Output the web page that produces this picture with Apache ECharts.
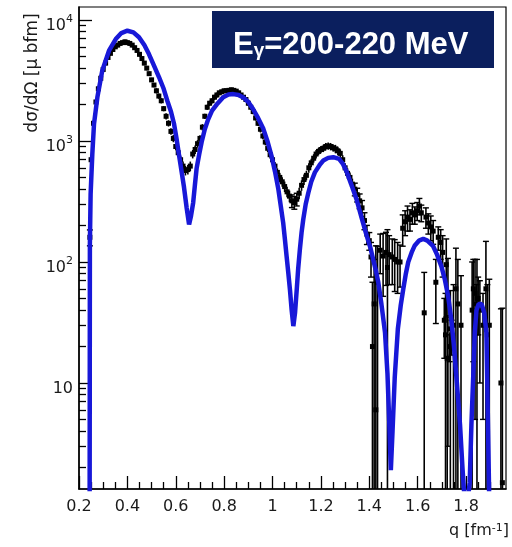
<!DOCTYPE html>
<html><head><meta charset="utf-8">
<script src="https://cdn.jsdelivr.net/npm/echarts@6/dist/echarts.min.js"></script>
<style>html,body{margin:0;padding:0;background:#fff}#c{width:512px;height:547px}</style>
</head><body><div id="c"></div>
<script>
// ---- axis ticks / labels ----
const xMajorTicks = [0.2,0.4,0.6,0.8,1.0,1.2,1.4,1.6,1.8];
const xMinorTicks = [0.25,0.3,0.35,0.45,0.5,0.55,0.65,0.7,0.75,0.85,0.9,0.95,1.05,1.1,1.15,1.25,1.3,1.35,1.45,1.5,1.55,1.65,1.7,1.75,1.85,1.9,1.95];
const yMajorTicks = [10,100,1000,10000];
const yMajorExp = ['', '2', '3', '4'];
const yMinorTicks = [2,3,4,5,6,7,8,9,20,30,40,50,60,70,80,90,200,300,400,500,600,700,800,900,2000,3000,4000,5000,6000,7000,8000,9000];
const xRange = [0.2, 1.965];
const yRange = [1.33, 12800];

// ---- theory curve (blue) ----
const curveQ = [0.2440,0.2450,0.248,0.255,0.262,0.276,0.296,0.324,0.352,0.375,0.400,0.425,0.448,0.470,0.489,0.510,0.531,0.550,0.565,0.580,0.593,0.603,0.613,0.624,0.634,0.645,0.655,0.663,0.672,0.679,0.686,0.697,0.707,0.720,0.734,0.750,0.769,0.796,0.818,0.838,0.860,0.879,0.900,0.920,0.940,0.962,0.980,0.996,1.010,1.024,1.034,1.044,1.051,1.058,1.065,1.072,1.079,1.086,1.093,1.100,1.106,1.113,1.120,1.127,1.137,1.148,1.160,1.175,1.196,1.210,1.230,1.251,1.275,1.290,1.306,1.325,1.347,1.370,1.389,1.405,1.416,1.427,1.437,1.450,1.465,1.475,1.482,1.489,1.496,1.505,1.518,1.530,1.540,1.551,1.561,1.575,1.588,1.605,1.623,1.640,1.664,1.680,1.698,1.712,1.726,1.740,1.750,1.762,1.775,1.785,1.795,1.805,1.815,1.822,1.830,1.836,1.843,1.852,1.864,1.875,1.884,1.891,1.896];
const curveVal = [1.0,140,363,775,1380,2300,3800,5570,6960,7800,8150,7900,7200,6200,5230,4200,3360,2700,2150,1750,1380,1050,775,560,415,280,204,240,310,430,590,780,980,1250,1510,1780,2000,2300,2420,2440,2400,2290,2100,1830,1550,1260,980,750,560,400,290,211,155,112,82,59,40,29.5,38,59,88,127,175,225,300,373,460,550,640,690,725,735,710,650,560,440,330,225,165,130,105,85,68,45,26,12,5,1.9,4,11,28,44,59,80,100,120,137,150,155,150,135,115,92,72,52,32,20,10,4.5,2,1.0,1.0,1.5,4.5,12,26,40,45,45,38,26,4,1.0];

// ---- measured data, dense part (percent errors) ----
const denseQ = [0.245,0.25,0.26,0.27,0.28,0.29,0.30,0.31,0.32,0.33,0.34,0.35,0.36,0.37,0.38,0.39,0.40,0.41,0.42,0.43,0.44,0.45,0.46,0.47,0.48,0.49,0.50,0.51,0.52,0.53,0.54,0.55,0.56,0.57,0.58,0.59,0.60,0.61,0.62,0.63,0.64,0.65,0.66,0.67,0.68,0.69,0.70,0.71,0.72,0.73,0.74,0.75,0.76,0.77,0.78,0.79,0.80,0.81,0.82,0.83,0.84,0.85,0.86,0.87,0.88,0.89,0.90,0.91,0.92,0.93,0.94,0.95,0.96,0.97,0.98,0.99,1.00,1.01,1.02,1.03,1.04,1.05,1.06,1.07,1.08,1.09,1.10,1.11,1.12,1.13,1.14,1.15,1.16,1.17,1.18,1.19,1.20,1.21,1.22,1.23,1.24,1.25,1.26,1.27,1.28,1.29,1.30,1.31,1.32,1.33,1.34,1.35,1.36,1.37,1.38,1.39];
const denseVal = [160,700,1400,2100,2700,3300,3900,4400,4900,5300,5700,6000,6200,6400,6500,6600,6500,6400,6200,5900,5600,5200,4800,4400,4000,3600,3200,2900,2600,2350,2150,1850,1600,1400,1200,1050,900,800,700,620,570,580,620,780,850,950,1050,1300,1600,1900,2050,2150,2300,2400,2500,2550,2600,2600,2620,2650,2620,2580,2500,2400,2300,2200,2050,1900,1750,1550,1400,1250,1100,980,870,770,700,620,550,500,460,420,380,350,320,310,330,370,430,480,520,600,660,720,780,820,850,870,900,910,900,880,860,830,790,700,600,540,500,440,400,360,320,280,220,170];
const denseErrPct = [15,6,5,5,5,5,4,4,4,4,4,4,4,4,4,4,4,4,4,4,4,4,4,4,4,4,4,4,5,5,5,5,6,6,6,7,7,8,8,9,9,9,9,8,8,7,6,6,5,5,5,5,5,5,4,4,4,4,4,4,4,4,4,4,4,4,5,5,5,5,5,6,6,6,7,7,7,8,8,9,9,10,10,11,12,12,12,11,10,10,9,9,8,8,8,7,7,7,7,7,7,7,8,8,8,9,9,10,10,11,12,13,14,15,16,18];

// ---- measured data, sparse part (absolute errors) ----
const sparseQ = [1.400,1.407,1.413,1.420,1.427,1.434,1.445,1.457,1.469,1.475,1.482,1.495,1.505,1.517,1.527,1.538,1.548,1.558,1.568,1.578,1.588,1.598,1.607,1.615,1.627,1.634,1.644,1.654,1.664,1.675,1.685,1.695,1.703,1.710,1.715,1.718,1.722,1.725,1.732,1.735,1.740,1.748,1.758,1.766,1.779,1.825,1.830,1.837,1.843,1.845,1.850,1.857,1.870,1.882,1.888,1.896,1.944,1.950];
const sparseVal = [150,110,20,45,6,68,125,112,120,90,115,110,105,100,100,190,215,235,225,255,245,265,290,255,38,235,210,195,180,68,160,145,120,33,25,95,16,55,20,28,25,30,60,45,30,40,60,55,45,50,50,40,30,60,25,30,10,1.5];
const sparseErr = [25,35,48,60,130,67,45,60,56,95,50,45,48,45,38,55,50,55,45,50,40,45,45,40,44,45,40,45,40,37,35,40,45,17,30,60,20,52,5,30,8,35,70,60,47,60,45,50,20,55,25,30,25,88,40,42,31,40];

// ---- build ----
const pts = [];
denseQ.forEach((q,i)=>{const v=denseVal[i], e=v*denseErrPct[i]/100; pts.push([q,v,v-e,v+e]);});
sparseQ.forEach((q,i)=>{const v=sparseVal[i], e=sparseErr[i]; pts.push([q,v,v-e,v+e]);});
const curve = curveQ.map((q,i)=>[q,curveVal[i]]);

const FONT = '"DejaVu Sans", sans-serif';
const TXT = '#1a1a1a';

function renderPoint(params, api) {
  const q = api.value(0), v = api.value(1), lo = api.value(2), hi = api.value(3);
  const cs = params.coordSys;
  const yB = cs.y + cs.height, yT = cs.y;
  const cl = y => Math.max(yT, Math.min(yB, y));
  const c = api.coord([q, v]);
  const yHiRaw = api.coord([q, hi])[1];
  const yHi = cl(yHiRaw);
  const yLoRaw = lo > 0 ? api.coord([q, lo])[1] : yB + 10;
  const yLo = cl(yLoRaw);
  const ch = [];
  const big = (yLo - yHi) > 12;
  if (yHi < yB) ch.push({type:'line', shape:{x1:c[0],y1:yHi,x2:c[0],y2:yLo}, style:{stroke:'#000', lineWidth:1.6}});
  if (big && yHiRaw > yT && yHiRaw < yB) ch.push({type:'line', shape:{x1:c[0]-3,y1:yHiRaw,x2:c[0]+3,y2:yHiRaw}, style:{stroke:'#000', lineWidth:1.4}});
  if (big && yLoRaw > yT && yLoRaw < yB) ch.push({type:'line', shape:{x1:c[0]-3,y1:yLoRaw,x2:c[0]+3,y2:yLoRaw}, style:{stroke:'#000', lineWidth:1.4}});
  if (v > yRange[0]) ch.push({type:'rect', shape:{x:c[0]-2.5,y:c[1]-2.5,width:5,height:5}, style:{fill:'#000'}});
  return {type:'group', children: ch};
}

const chart = echarts.init(document.getElementById('c'), null, {renderer:'canvas'});
chart.setOption({
  animation:false,
  backgroundColor:'#fff',
  grid:{left:79, right:6, top:7, bottom:58, show:true, borderColor:'#000', borderWidth:1.2, backgroundColor:'transparent'},
  xAxis:[
    {type:'value', min:xRange[0], max:xRange[1], position:'bottom',
     axisLine:{lineStyle:{color:'#000', width:1.5}},
     axisTick:{inside:true, length:13, customValues:xMajorTicks, lineStyle:{color:'#000', width:1.3}},
     axisLabel:{customValues:xMajorTicks, margin:10, fontFamily:FONT, fontSize:16, color:TXT},
     splitLine:{show:false}},
    {type:'value', min:xRange[0], max:xRange[1], position:'bottom',
     axisLine:{show:false},
     axisTick:{inside:true, length:7, customValues:xMinorTicks, lineStyle:{color:'#000', width:1.3}},
     axisLabel:{show:false}, splitLine:{show:false}}
  ],
  yAxis:[
    {type:'log', logBase:10, min:yRange[0], max:yRange[1], position:'left',
     axisLine:{show:true, lineStyle:{color:'#000', width:1.5}},
     axisTick:{show:true, inside:true, length:13, customValues:yMajorTicks, lineStyle:{color:'#000', width:1.3}},
     axisLabel:{customValues:yMajorTicks, margin:6,
       formatter:(v)=>{const i=yMajorTicks.indexOf(Math.round(v)); const e=yMajorExp[i]||''; return e?('{b|10}{s|'+e+'}'):'{b|10}';},
       rich:{b:{fontFamily:FONT, fontSize:16, color:TXT, lineHeight:16, padding:[12,0,0,0], verticalAlign:'middle'},
             s:{fontFamily:FONT, fontSize:11, color:TXT, lineHeight:11, padding:[0,0,2,0], verticalAlign:'middle'}}},
     splitLine:{show:false}},
    {type:'log', logBase:10, min:yRange[0], max:yRange[1], position:'left',
     axisLine:{show:false},
     axisTick:{show:true, inside:true, length:7, customValues:yMinorTicks, lineStyle:{color:'#000', width:1.3}},
     axisLabel:{show:false}, splitLine:{show:false}}
  ],
  graphic:[
    {type:'text', x:33, y:73, rotation:Math.PI/2,
     style:{text:'dσ/dΩ [μ bfm]', font:'17px '+FONT, fill:TXT, align:'center', verticalAlign:'middle'}},
    {type:'text', x:509, y:531,
     style:{text:'{t|q [fm}{s|-1}{t|]}', align:'right', verticalAlign:'middle',
       rich:{t:{fontFamily:FONT, fontSize:16, fill:TXT, lineHeight:16, padding:[6,0,0,0], verticalAlign:'bottom'},
             s:{fontFamily:FONT, fontSize:11, fill:TXT, lineHeight:11, verticalAlign:'top'}}}},
    {type:'rect', shape:{x:212, y:11, width:282, height:57}, style:{fill:'#0b1f5e'}, z:100},
    {type:'text', x:233, y:45, z:101,
     style:{text:'{e|E}{g|γ}{e|=200-220 MeV}', align:'left', verticalAlign:'middle',
       rich:{e:{fontFamily:'"Liberation Sans", Arial, sans-serif', fontWeight:'bold', fontSize:31, fill:'#fff', lineHeight:31, padding:[0,0,9,0], verticalAlign:'top'},
             g:{fontFamily:'"Liberation Sans", Arial, sans-serif', fontWeight:'bold', fontSize:19, fill:'#fff', lineHeight:19, verticalAlign:'bottom'}}}}
  ],
  series:[
    {type:'custom', xAxisIndex:0, yAxisIndex:0, renderItem:renderPoint, data:pts, encode:{x:0,y:1}, z:2, clip:true},
    {type:'line', xAxisIndex:0, yAxisIndex:0, data:curve, showSymbol:false, symbol:'none', z:3, clip:true,
     lineStyle:{color:'#1818d8', width:4.5}}
  ]
});
</script></body></html>
